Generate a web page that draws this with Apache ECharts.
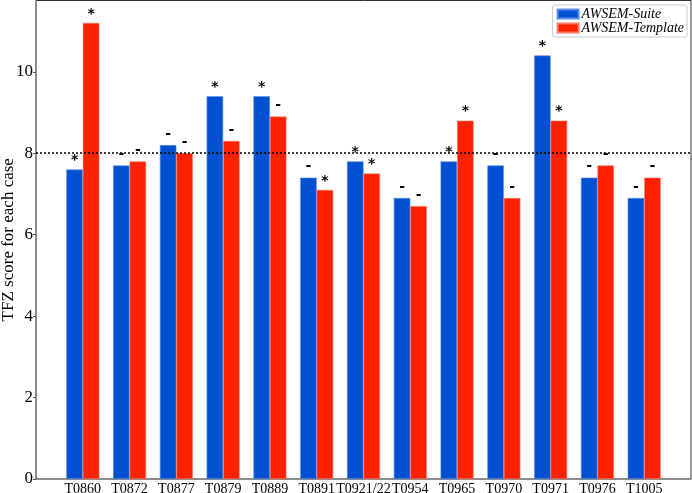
<!DOCTYPE html>
<html>
<head>
<meta charset="utf-8">
<script src="https://cdn.jsdelivr.net/npm/echarts@6/dist/echarts.min.js"></script>
<style>html,body{margin:0;padding:0;background:#fff}#c{width:692px;height:493px}</style>
</head>
<body>
<div id="c"></div>
<script>
const categories = ['T0860','T0872','T0877','T0879','T0889','T0891','T0921/22','T0954','T0965','T0970','T0971','T0976','T1005'];
const suiteValues = [7.6,7.7,8.2,9.4,9.4,7.4,7.8,6.9,7.8,7.7,10.4,7.4,6.9];
const templateValues = [11.2,7.8,8.0,8.3,8.9,7.1,7.5,6.7,8.8,6.9,8.8,7.7,7.4];
const suiteMarks = ['*','-','-','*','*','-','*','-','*','-','*','-','-'];
const templateMarks = ['*','-','-','-','-','*','*','-','*','-','*','-','-'];
const yTicks = [0,2,4,6,8,10];
const threshold = 8;
const seriesNames = ['AWSEM-Suite','AWSEM-Template'];

const padCats = [''].concat(categories, ['']);
function build(values, marks) {
  const items = values.map((v, i) => ({
    value: v,
    label: {
      formatter: marks[i],
      distance: marks[i] === '*' ? 2 : 4
    }
  }));
  return [null].concat(items, [null]);
}
const serif = 'Liberation Serif';
const chart = echarts.init(document.getElementById('c'), null, {renderer: 'canvas'});
const labelBase = {show: true, position: 'top', color: '#000', fontFamily: 'DejaVu Sans', fontWeight: 'bold', fontSize: 14};
chart.setOption({
  animation: false,
  backgroundColor: '#fff',
  grid: {left: 36, right: 1, top: 0.5, bottom: 14, containLabel: false, outerBoundsMode: 'none',
         show: true, borderColor: '#333', borderWidth: 1, backgroundColor: 'transparent'},
  legend: {
    orient: 'vertical', right: 5, top: 5,
    padding: [2, 3, 2, 4], itemGap: 0, itemWidth: 21, itemHeight: 9,
    borderColor: '#c4cccc', borderWidth: 1, borderRadius: 2, backgroundColor: '#fff',
    selectedMode: false, icon: 'rect',
    textStyle: {fontFamily: serif, fontStyle: 'italic', fontSize: 14, color: '#000', padding: [0,0,0,-2]},
    data: seriesNames
  },
  xAxis: {
    type: 'category', data: padCats, boundaryGap: false,
    axisLine: {lineStyle: {color: '#888', width: 1.5}},
    axisTick: {show: false},
    axisLabel: {interval: 0, color: '#000', fontFamily: serif, fontSize: 14, margin: 3, hideOverlap: false},
    splitLine: {show: false}
  },
  yAxis: {
    type: 'value', min: 0, max: 11.75,
    name: 'TFZ score for each case', nameLocation: 'middle', nameGap: 19, nameMoveOverlap: false,
    nameTextStyle: {fontFamily: serif, fontSize: 17, color: '#000'},
    axisLine: {show: true, lineStyle: {color: '#888', width: 1.5}},
    axisTick: {show: true, length: 3, lineStyle: {color: '#555'}, customValues: yTicks},
    axisLabel: {color: '#000', fontFamily: serif, fontSize: 17, margin: 3, customValues: yTicks},
    splitLine: {show: false}
  },
  series: [
    {
      name: seriesNames[0], type: 'bar', data: build(suiteValues, suiteMarks),
      barWidth: 16.5, barGap: '0%',
      itemStyle: {color: '#0050d2', borderColor: '#5a8fe6', borderWidth: 0.6},
      label: labelBase,
      markLine: {
        silent: true, symbol: 'none', z: 10,
        lineStyle: {color: '#000', type: [2, 2], width: 1.5},
        label: {show: false},
        data: [{yAxis: threshold}]
      }
    },
    {
      name: seriesNames[1], type: 'bar', data: build(templateValues, templateMarks),
      barWidth: 16.5, barGap: '0%',
      itemStyle: {color: '#ff2000', borderColor: '#ff7a66', borderWidth: 0.6},
      label: labelBase
    }
  ]
});
</script>
</body>
</html>
